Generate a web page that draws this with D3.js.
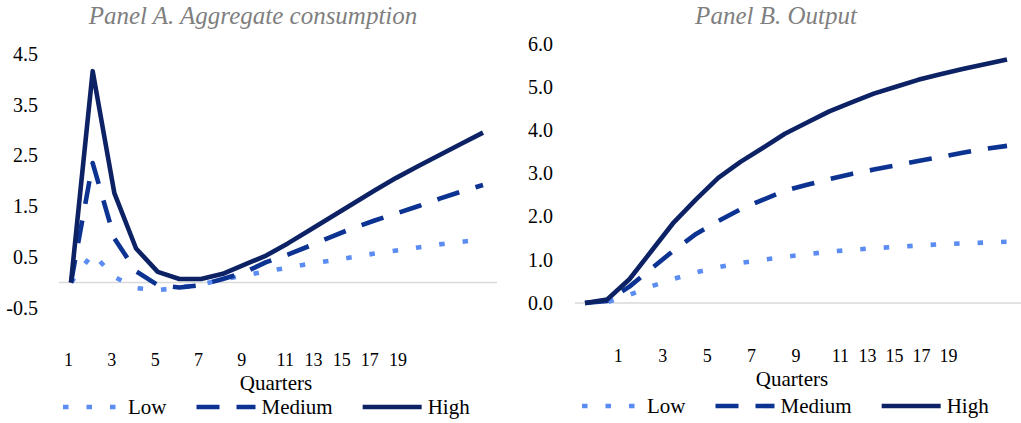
<!DOCTYPE html>
<html>
<head>
<meta charset="utf-8">
<title>Impulse responses</title>
<script src="https://cdn.jsdelivr.net/npm/d3@7"></script>
<style>
  body { margin: 0; background: #fff; }
  svg { display: block; }
  text { font-family: "Liberation Serif", "Times New Roman", serif; fill: #000; }
  .title { font-style: italic; fill: #7f7f7f; font-size: 25px; }
  .ytick { font-size: 20px; }
  .xtick { font-size: 18px; }
  .xlab, .leg { font-size: 21px; }
  .baseline { stroke: #d9d9d9; stroke-width: 1.3px; }
  .series { fill: none; stroke-width: 4.6px; stroke-linejoin: round; }
</style>
</head>
<body>
<div id="chart"></div>
<script>
// quarters after the shock
var quarters = [1, 2, 3, 4, 5, 6, 7, 8, 9, 10, 11, 12, 13, 14, 15, 16, 17, 18, 19, 20];
var xTickLabels = [1, 3, 5, 7, 9, 11, 13, 15, 17, 19];
var seriesNames = ["Low", "Medium", "High"];

// Panel A. Aggregate consumption
var consLow  = [0, 0.57, 0.11, -0.11, -0.15, -0.10, -0.04, 0.06, 0.14, 0.22, 0.29, 0.37, 0.43, 0.50, 0.57, 0.63, 0.69, 0.75, 0.80, 0.85];
var consMed  = [0, 2.35, 0.87, 0.22, -0.05, -0.10, -0.05, 0.07, 0.20, 0.40, 0.55, 0.72, 0.90, 1.07, 1.22, 1.36, 1.50, 1.65, 1.79, 1.92];
var consHigh = [0, 4.16, 1.76, 0.67, 0.21, 0.07, 0.07, 0.17, 0.35, 0.53, 0.77, 1.03, 1.29, 1.55, 1.81, 2.06, 2.29, 2.51, 2.73, 2.95];
var yTicksA = [4.5, 3.5, 2.5, 1.5, 0.5, -0.5];

// Panel B. Output
var outLow  = [0, 0.02, 0.19, 0.39, 0.56, 0.71, 0.83, 0.93, 1.00, 1.07, 1.13, 1.19, 1.23, 1.27, 1.30, 1.33, 1.36, 1.38, 1.40, 1.42];
var outMed  = [0, 0.05, 0.38, 0.80, 1.22, 1.60, 1.90, 2.17, 2.39, 2.60, 2.74, 2.87, 2.99, 3.09, 3.19, 3.29, 3.38, 3.48, 3.57, 3.64];
var outHigh = [0, 0.08, 0.55, 1.21, 1.87, 2.40, 2.90, 3.27, 3.59, 3.92, 4.18, 4.44, 4.65, 4.85, 5.01, 5.17, 5.30, 5.42, 5.53, 5.64];
var yTicksB = [6, 5, 4, 3, 2, 1, 0];

var styles = [
  { color: "#5b8cf2", dash: "5.5,18" },
  { color: "#0c3392", dash: "23,17" },
  { color: "#0c2264", dash: null }
];

var width = 1021, height = 423;
var svg = d3.select("#chart").append("svg")
  .attr("width", width).attr("height", height);

var panels = [
  { title: "Panel A. Aggregate consumption", titleX: 253,
    xRange: [71, 483], yDomain: [-0.5, 4.5], yRange: [307.9, 53.9],
    axisX: [59, 497], yLabelX: 38, yTicks: yTicksA,
    tickShift: -0.12, packPitch: 28.2, tickBase: 366,
    quartersX: 276, quartersBase: 390,
    legendX: 63, legendY: 407,
    values: [consLow, consMed, consHigh] },
  { title: "Panel B. Output", titleX: 776,
    xRange: [585, 1007], yDomain: [0, 6], yRange: [303, 44],
    axisX: [575, 1021], yLabelX: 553, yTicks: yTicksB,
    tickShift: 1.5, packPitch: 27, tickBase: 362,
    quartersX: 792, quartersBase: 386,
    legendX: 582, legendY: 406,
    values: [outLow, outMed, outHigh] }
];

// plain hyphen for negatives, like the source
var fmt = d3.formatLocale({ decimal: ".", thousands: ",", grouping: [3], currency: ["", ""], minus: "-" }).format(".1f");

panels.forEach(function(p) {
  var g = svg.append("g");
  var x = d3.scaleLinear().domain([1, 20]).range(p.xRange);
  var y = d3.scaleLinear().domain(p.yDomain).range(p.yRange);

  g.append("text").attr("class", "title")
    .attr("x", p.titleX).attr("y", 24)
    .attr("text-anchor", "middle").text(p.title);

  // y labels, no tick marks / gridlines in the original
  g.selectAll(".ytick").data(p.yTicks).enter().append("text")
    .attr("class", "ytick")
    .attr("x", p.yLabelX).attr("y", function(d) { return y(d); })
    .attr("dy", "0.34em").attr("text-anchor", "end")
    .text(function(d) { return fmt(d); });

  // zero line
  g.append("line").attr("class", "baseline")
    .attr("x1", p.axisX[0]).attr("x2", p.axisX[1])
    .attr("y1", y(0)).attr("y2", y(0));

  // quarter labels sit below the plot; past 11 they are packed tighter (as in the source)
  var pos11 = x(11 + p.tickShift);
  g.selectAll(".xtick").data(xTickLabels).enter().append("text")
    .attr("class", "xtick")
    .attr("x", function(d) {
      if (d <= 11) return x(d + p.tickShift);
      return pos11 + (d - 11) / 2 * p.packPitch;
    })
    .attr("y", p.tickBase).attr("text-anchor", "middle")
    .text(function(d) { return d; });

  g.append("text").attr("class", "xlab")
    .attr("x", p.quartersX).attr("y", p.quartersBase)
    .attr("text-anchor", "middle").text("Quarters");

  var line = d3.line()
    .x(function(d, i) { return x(quarters[i]); })
    .y(function(d) { return y(d); });

  p.values.forEach(function(vals, k) {
    g.append("path").attr("class", "series")
      .attr("d", line(vals))
      .attr("stroke", styles[k].color)
      .attr("stroke-dasharray", styles[k].dash);
  });

  // legend
  var lx = p.legendX;
  seriesNames.forEach(function(name, k) {
    g.append("line").attr("class", "series")
      .attr("x1", lx).attr("x2", lx + 59)
      .attr("y1", p.legendY).attr("y2", p.legendY)
      .attr("stroke", styles[k].color)
      .attr("stroke-dasharray", styles[k].dash);
    var t = g.append("text").attr("class", "leg")
      .attr("x", lx + 65).attr("y", p.legendY + 6.5).text(name);
    lx = lx + 65 + t.node().getComputedTextLength() + 30;
  });
});
</script>
</body>
</html>
